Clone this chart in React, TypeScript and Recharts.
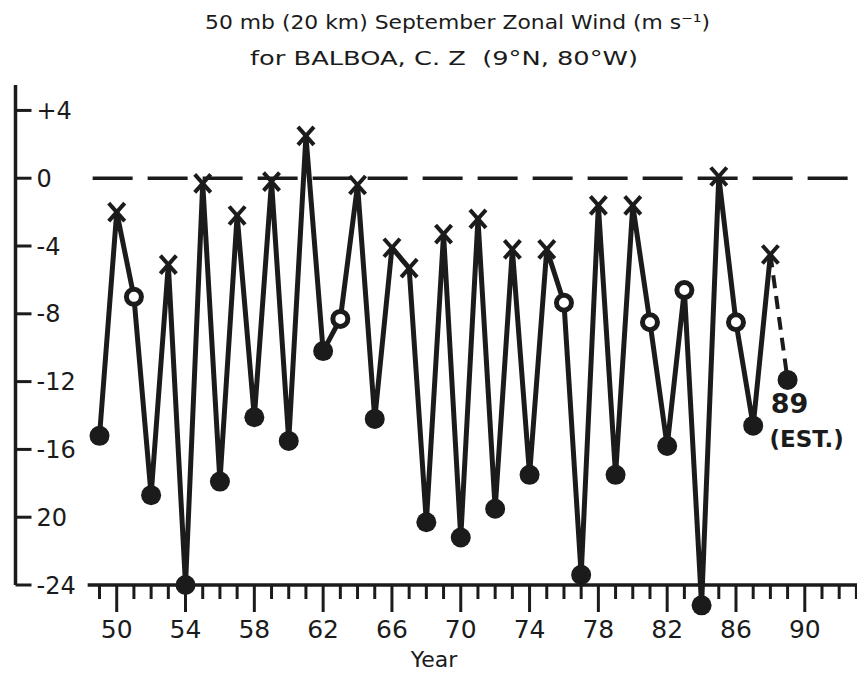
import React from 'react';
import { LineChart, Line, XAxis, YAxis, ReferenceLine, LabelList } from 'recharts';

// Year (19xx) of each September observation
const years = [49, 50, 51, 52, 53, 54, 55, 56, 57, 58, 59, 60, 61, 62, 63, 64, 65, 66, 67, 68,
  69, 70, 71, 72, 73, 74, 75, 76, 77, 78, 79, 80, 81, 82, 83, 84, 85, 86, 87, 88];
// 50 mb September zonal wind (m/s), observed
const windValues = [-15.2, -2.0, -7.0, -18.7, -5.1, -24.0, -0.3, -17.9, -2.2, -14.1,
  -0.2, -15.5, 2.5, -10.2, -8.3, -0.4, -14.2, -4.1, -5.3, -20.3,
  -3.3, -21.2, -2.4, -19.5, -4.2, -17.5, -4.2, -7.35, -23.4, -1.6,
  -17.5, -1.6, -8.5, -15.8, -6.6, -25.2, 0.1, -8.5, -14.6, -4.5];
// marker symbol: x = cross, o = open circle, f = filled circle
const markerTypes = ['f', 'x', 'o', 'f', 'x', 'f', 'x', 'f', 'x', 'f',
  'x', 'f', 'x', 'f', 'o', 'x', 'f', 'x', 'x', 'f',
  'x', 'f', 'x', 'f', 'x', 'f', 'x', 'o', 'f', 'x',
  'f', 'x', 'o', 'f', 'o', 'f', 'x', 'o', 'f', 'x'];
// 1989 estimate
const estYear = 89;
const estValue = -11.9;
const estLabel = '89';
const estNote = '(EST.)';

// axis ticks
const yTickValues = [4, 0, -4, -8, -12, -16, -20, -24];
const yTickLabels = ['+4', '0', '-4', '-8', '-12', '-16', '20', '-24'];
const xTickYears = [49, 50, 51, 52, 53, 54, 55, 56, 57, 58, 59, 60, 61, 62, 63, 64, 65, 66, 67, 68, 69,
  70, 71, 72, 73, 74, 75, 76, 77, 78, 79, 80, 81, 82, 83, 84, 85, 86, 87, 88, 89, 90, 91, 92, 93];
const xLabeledYears = [50, 54, 58, 62, 66, 70, 74, 78, 82, 86, 90];
const xTickLabels = ['50', '54', '58', '62', '66', '70', '74', '78', '82', '86', '90'];

const titleLine1 = '50 mb (20 km) September Zonal Wind (m s\u207B\u00B9)';
const titleLine2 = 'for BALBOA, C. Z  (9°N, 80°W)';
const xAxisTitle = 'Year';

const lastObs = years[years.length - 1];
const table = [
  ...years.map((yr, i) => ({
    year: yr,
    obs: windValues[i],
    est: yr === lastObs ? windValues[i] : null,
    kind: markerTypes[i],
  })),
  { year: estYear, obs: null, est: estValue, kind: 'f' },
];

const INK = '#1b1b1b';
const FONT = "'DejaVu Sans', sans-serif";

const Marker = (props: any) => {
  const { cx, cy, payload, index } = props;
  if (cx == null || cy == null || !payload) return <g key={`m-${index}`} />;
  const k = payload.kind;
  if (k === 'x') {
    return (
      <g key={`m-${index}`}>
        <line x1={cx - 8} y1={cy - 9} x2={cx + 8} y2={cy + 9} stroke={INK} strokeWidth={4} />
        <line x1={cx + 8} y1={cy - 9} x2={cx - 8} y2={cy + 9} stroke={INK} strokeWidth={4} />
      </g>
    );
  }
  if (k === 'o') {
    return <circle key={`m-${index}`} cx={cx} cy={cy} r={7.5} fill="#fff" stroke={INK} strokeWidth={5} />;
  }
  return <circle key={`m-${index}`} cx={cx} cy={cy} r={10} fill={INK} />;
};

const EstDot = (props: any) => {
  const { cx, cy, payload, index } = props;
  if (cx == null || cy == null || !payload || payload.year !== estYear) return <g key={`e-${index}`} />;
  return <circle key={`e-${index}`} cx={cx} cy={cy} r={10} fill={INK} />;
};

const EstLabel = (props: any) => {
  const { x, y, index } = props;
  if (index !== table.length - 1) return null;
  return (
    <g>
      <text x={x + 2} y={y + 33} textAnchor="middle" fontFamily={FONT} fontWeight="bold" fontSize={27} fill={INK}>
        {estLabel}
      </text>
      <text x={x - 18} y={y + 67} textAnchor="start" fontFamily={FONT} fontWeight="bold" fontSize={23} fill={INK}>
        {estNote}
      </text>
    </g>
  );
};

const XTick = (props: any) => {
  const { x, y, payload } = props;
  const idx = xLabeledYears.indexOf(payload.value);
  const major = idx >= 0;
  return (
    <g>
      <line x1={x} x2={x} y1={y} y2={y + (major ? 27 : 14)} stroke={INK} strokeWidth={3} />
      {major && (
        <text x={x} y={y + 53} textAnchor="middle" fontFamily={FONT} fontSize={25} fill={INK}>
          {xTickLabels[idx]}
        </text>
      )}
    </g>
  );
};

export default function App() {
  const W = 857;
  const H = 667;
  return (
    <div style={{ position: 'relative', width: W, height: H, background: '#fff' }}>
      <style>{`.recharts-surface [clip-path]{clip-path:none !important;}`}</style>
      <LineChart
        width={W}
        height={H}
        data={table}
        margin={{ top: 77, right: 0, bottom: 30, left: 7.5 }}
      >
        <XAxis
          dataKey="year"
          type="number"
          domain={[44.116, 93.5]}
          ticks={xTickYears}
          interval={0}
          axisLine={false}
          tickLine={false}
          tickSize={0}
          tickMargin={0}
          height={60}
          tick={<XTick />}
        />
        <YAxis
          type="number"
          domain={[-24, 5.5]}
          allowDataOverflow
          ticks={yTickValues}
          interval={0}
          mirror
          width={60}
          tickSize={16}
          tickMargin={5}
          axisLine={{ stroke: INK, strokeWidth: 3.5 }}
          tickLine={{ stroke: INK, strokeWidth: 3 }}
          tick={{ fill: INK, fontSize: 24, fontFamily: FONT }}
          tickFormatter={(v: number) => yTickLabels[yTickValues.indexOf(v)] ?? String(v)}
        />
        <ReferenceLine
          segment={[{ x: 48.31, y: -24 }, { x: 93.5, y: -24 }]}
          stroke={INK}
          strokeWidth={3.5}
        />
        <ReferenceLine
          segment={[{ x: 48.6, y: 0 }, { x: 93.5, y: 0 }]}
          stroke={INK}
          strokeWidth={3.5}
          strokeDasharray="40 15"
        />
        <Line
          dataKey="est"
          type="linear"
          stroke={INK}
          strokeWidth={4}
          strokeDasharray="13 8"
          dot={<EstDot />}
          activeDot={false}
          connectNulls={false}
          isAnimationActive={false}
        >
          <LabelList dataKey="est" content={<EstLabel />} />
        </Line>
        <Line
          dataKey="obs"
          type="linear"
          stroke={INK}
          strokeWidth={5}
          strokeLinejoin="round"
          dot={<Marker />}
          activeDot={false}
          connectNulls={false}
          isAnimationActive={false}
        />
      </LineChart>
      <svg
        width={W}
        height={H}
        style={{ position: 'absolute', left: 0, top: 0, pointerEvents: 'none' }}
      >
        <text x={449.5} y={21} textAnchor="middle" fontFamily={FONT} fontSize={20} fill={INK}
          textLength={505} lengthAdjust="spacingAndGlyphs">
          {titleLine1}
        </text>
        <text x={436} y={57} textAnchor="middle" fontFamily={FONT} fontSize={20} fill={INK}
          textLength={388} lengthAdjust="spacingAndGlyphs" style={{ whiteSpace: 'pre' }}>
          {titleLine2}
        </text>
        <text x={426} y={659} textAnchor="middle" fontFamily={FONT} fontSize={22} fill={INK}>
          {xAxisTitle}
        </text>
      </svg>
    </div>
  );
}
